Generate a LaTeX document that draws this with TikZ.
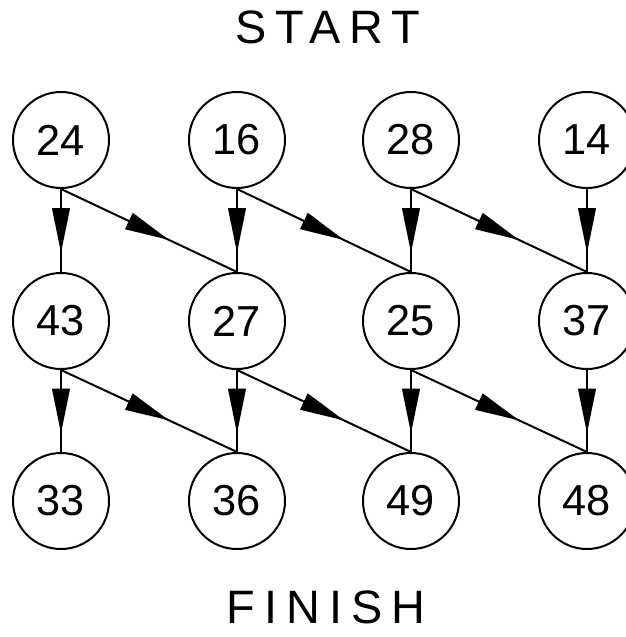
\documentclass[tikz,border=0pt]{standalone}
\usepackage{fontspec}
\setmainfont{Liberation Sans}
\usetikzlibrary{arrows.meta,decorations.markings}
\tikzset{
  cell/.style={circle,draw,line width=1.7pt,minimum size=2.88cm,inner sep=0pt,
    font=\fontsize{37}{40}\selectfont},
  flow/.style={line width=1.7pt,postaction={decorate},
    decoration={markings,mark=at position 0.5 with
      {\arrow[xshift=19pt]{Triangle[length=38pt,width=15pt]}}}},
  banner/.style={font=\fontsize{40}{44}\selectfont\addfontfeature{LetterSpace=19}}
}
\begin{document}
\begin{tikzpicture}[x=0.3mm,y=-0.3mm]
  \useasboundingbox (0,0) rectangle (626,637);
  \node[banner] (start) at (328,27) {START};
  \node[banner] (finish) at (326,607) {FINISH};
  % three rows of cells
  \foreach \x/\lab [count=\i] in {61/24,237/16,411/28,587/14}
    \node[cell] (a\i) at (\x,140) {\lab};
  \foreach \x/\lab [count=\i] in {61/43,237/27,411/25,587/37}
    \node[cell] (b\i) at (\x,321) {\lab};
  \foreach \x/\lab [count=\i] in {61/33,237/36,411/49,587/48}
    \node[cell] (c\i) at (\x,501) {\lab};
  % straight down and one step right
  \foreach \i in {1,...,4}{%
    \draw[flow] (a\i.south) -- (b\i.north);
    \draw[flow] (b\i.south) -- (c\i.north);
  }
  \foreach \i/\j in {1/2,2/3,3/4}{%
    \draw[flow] (a\i.south) -- (b\j.north);
    \draw[flow] (b\i.south) -- (c\j.north);
  }
\end{tikzpicture}
\end{document}
